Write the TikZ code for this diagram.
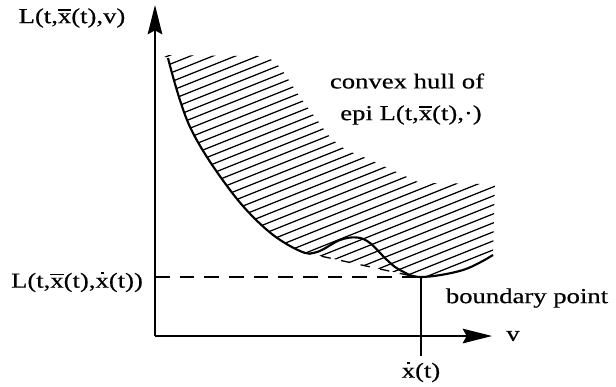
\documentclass[tikz,border=0pt]{standalone}
\usepackage{fontspec}
\setmainfont{Liberation Serif}
\usetikzlibrary{arrows.meta}
\newcommand\xbar{\leavevmode\vbox{\hrule height 0.06em\kern 0.13em\hbox{x}}}
\newcommand\xdt{\leavevmode\vbox{\offinterlineskip\hbox to \fontcharwd\font`x{\hss\vrule width 0.11em height 0.11em depth 0pt\hss}\kern 0.17em\hbox{x}}}
\newcommand\wide[1]{\scalebox{1.25}[1]{#1}}
\tikzset{
  axisline/.style={line width=1.2pt,-{Stealth[length=22pt,width=11pt,inset=3pt]}},
  curveline/.style={line width=1.6pt},
  hatchline/.style={line width=0.95pt},
  dashline/.style={line width=1pt,dash pattern=on 11pt off 7.5pt},
  chordline/.style={line width=1pt,dash pattern=on 7pt off 8pt},
  tick/.style={line width=0.9pt},
  lbl/.style={inner sep=0pt,font=\fontsize{16}{19}\selectfont\addfontfeature{FakeBold=0.4}}
}
\begin{document}
\begin{tikzpicture}[x=0.75pt,y=-0.75pt]
\useasboundingbox (0,0) rectangle (616,386);
% hatching
\begin{scope}
\clip plot[smooth,tension=0.6] coordinates {(168,58) (190,127) (230,190) (267,230) (300,251.5)}
  -- (412,276)
  -- plot[smooth,tension=0.6] coordinates {(412,276) (421,277) (463,270) (493,255)}
  -- (495,184) -- (420,183)
  -- plot[smooth,tension=0.5] coordinates {(420,183) (392,170) (368,159) (345,149) (330,137) (318,121) (305,104) (292,85) (282,70) (272,60) (258,56)}
  -- (160,55) -- cycle;
\foreach \k in {-8,...,32} {
  \pgfmathsetmacro{\c}{384.2-9*\k}
  \draw[hatchline] (140,{\c-0.4*140}) -- (520,{\c-0.4*520});
}
\end{scope}
% axes
\coordinate (O) at (155,336);
\coordinate (ytip) at (155,5);
\coordinate (xtip) at (492,336);
\draw[axisline] (O) -- (ytip);
\draw[axisline] (O) -- (xtip);
% curve
\draw[curveline] plot[smooth,tension=0.6] coordinates {(168,58) (190,127) (230,190) (267,230) (300,251) (317,252) (340,240) (357,237.5) (370,243) (387,260) (400,270) (421,277) (463,270) (493,255)};
% chord
\coordinate (c1) at (302,252);
\coordinate (c2) at (412,276);
\draw[chordline] (c1) -- (c2);
% dashed level and vertical tick
\coordinate (dl) at (155,277);
\coordinate (bp) at (421,277);
\coordinate (vb) at (421,356);
\draw[dashline] (dl) -- (bp);
\draw[tick] (bp) -- (vb);
% labels
\node[lbl] (ylab) at (72,18) {\wide{L(t,\xbar(t),v)}};
\node[lbl] (vlab) at (513,336) {\wide{v}};
\node[lbl] (Llab) at (77,282) {\wide{L(t,\xbar(t),\xdt(t))}};
\node[lbl] (xdlab) at (421,372) {\wide{\xdt(t)}};
\node[lbl] (hull1) at (407,81) {\wide{convex hull of}};
\node[lbl] (hull2) at (411,115) {\wide{epi L(t,\xbar(t),·)}};
\node[lbl] (bplab) at (527,298) {\wide{boundary point}};
\end{tikzpicture}
\end{document}
